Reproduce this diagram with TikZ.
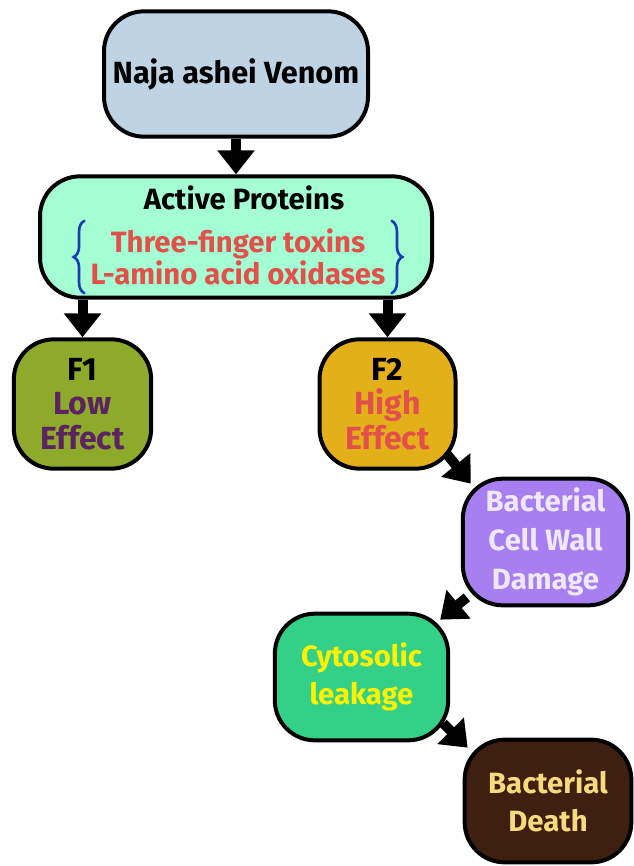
\documentclass[tikz,border=0pt]{standalone}
\usepackage{fontspec}
\setmainfont{Fira Sans}
\usepackage{xcolor}
\usetikzlibrary{arrows.meta,calc,decorations.pathreplacing}
\definecolor{venomblue}{HTML}{BED4E4}
\definecolor{protmint}{HTML}{A5FDD3}
\definecolor{lowolive}{HTML}{8EAA2B}
\definecolor{lowpurple}{HTML}{5B2360}
\definecolor{highamber}{HTML}{E3B019}
\definecolor{toxred}{HTML}{E2504C}
\definecolor{bracebl}{HTML}{1A3FB0}
\definecolor{wallpurple}{HTML}{A77FF0}
\definecolor{walltext}{HTML}{EFE8FA}
\definecolor{cytogreen}{HTML}{33D088}
\definecolor{cytoyellow}{HTML}{FFF200}
\definecolor{deathbrown}{HTML}{3E1F10}
\definecolor{deathtext}{HTML}{F5DA7E}
\tikzset{
  stage/.style={draw=black, line width=3pt, rounded corners=30pt, align=center,
    inner sep=0pt, font=\fontsize{22}{29}\selectfont\bfseries},
  fbox/.style={stage, font=\fontsize{24}{26}\selectfont\bfseries},
  flow/.style={line width=7.5pt, -{Triangle[width=27pt,length=18pt]}},
  curly/.style={bracebl, line width=2pt, line cap=round, decorate, decoration={brace, amplitude=8pt}},
}

\begin{document}
\begin{tikzpicture}[x=0.75pt,y=-0.75pt]
\useasboundingbox (0,0) rectangle (634,866);
% boxes
\node[stage, fill=venomblue, minimum width=198pt, minimum height=94pt, font=\fontsize{23}{28}\selectfont\bfseries] (venom) at (236,74) {Naja ashei Venom};
\node[stage, fill=protmint, minimum width=294pt, minimum height=91pt] (active) at (236,237) {};
\node[font=\fontsize{22}{28}\selectfont\bfseries] (title) at (244,198) {Active Proteins};
\node[font=\fontsize{22}{22.5}\selectfont\bfseries, text=toxred, align=center, inner sep=0pt] (toxins) at (238,257)
  {Three-finger toxins\\ L-amino acid oxidases};
\draw[curly] ($(toxins.south west)+(-6,8)$) -- ($(toxins.north west)+(-6,-8)$);
\draw[curly] ($(toxins.north east)+(6,-8)$) -- ($(toxins.south east)+(6,8)$);
\node[fbox, fill=lowolive, minimum width=103pt, minimum height=97pt] (f1) at (82.5,404)
  {F1\\ \textcolor{lowpurple}{Low}\\ \textcolor{lowpurple}{Effect}};
\node[fbox, fill=highamber, minimum width=102pt, minimum height=97pt] (f2) at (387.5,404)
  {F2\\ \textcolor{toxred}{High}\\ \textcolor{toxred}{Effect}};
\node[stage, fill=wallpurple, text=walltext, minimum width=124pt, minimum height=95pt] (wall) at (545.5,542)
  {Bacterial\\ Cell Wall\\ Damage};
\node[stage, fill=cytogreen, text=cytoyellow, minimum width=130pt, minimum height=95pt] (cyto) at (361.5,677)
  {Cytosolic\\ leakage};
\node[stage, fill=deathbrown, text=deathtext, minimum width=125pt, minimum height=92pt] (death) at (548,801)
  {Bacterial\\ Death};
% arrows
\draw[flow] (venom.south) -- (venom.south |- active.north);
\draw[flow] (f1.north |- active.south) -- (f1.north);
\draw[flow] (f2.north |- active.south) -- (f2.north);
\draw[flow] ($(f2.south east)+(-11,-17)$) -- ($(wall.north west)+(10,7)$);
\draw[flow] ($(wall.south west)+(6,-10)$) -- ($(cyto.north east)+(-10,8)$);
\draw[flow] ($(cyto.south east)+(-7,-19)$) -- ($(death.north west)+(5,10)$);
\end{tikzpicture}
\end{document}
